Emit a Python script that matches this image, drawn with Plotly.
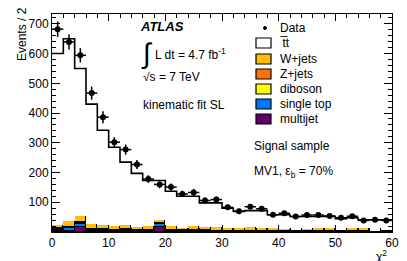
import plotly.graph_objects as go

# ---------------- data ----------------
bin_edges = list(range(0, 62, 2))
bin_centers = [e + 1 for e in bin_edges[:-1]]

data_values = [682, 639, 594, 467, 386, 302, 277, 227, 178, 160,
               151, 128, 133, 106, 109, 83, 70, 85, 78, 58,
               63, 52, 57, 57, 54, 48, 53, 39, 41, 39]
data_errors = [26, 25, 24, 22, 20, 17, 17, 15, 13, 13,
               12, 11, 12, 10, 10, 9, 8, 9, 9, 8,
               8, 7, 8, 8, 7, 7, 7, 6, 6, 6]

multijet = [3, 4, 16, 2, 2, 2, 2, 1, 1, 18,
            1, 1, 1, 1, 1, 1, 1, 1, 0, 0,
            0, 0, 0, 0, 0, 0, 0, 0, 0, 0]
single_top = [5, 9, 12, 5, 4, 3, 5, 3, 3, 8,
              3, 2, 3, 2, 2, 2, 2, 2, 2, 2,
              2, 1, 2, 2, 2, 1, 2, 2, 1, 1]
diboson = [1, 1, 2, 1, 1, 1, 1, 1, 1, 2,
           1, 1, 1, 1, 1, 0, 1, 1, 1, 1,
           0, 1, 0, 1, 1, 0, 1, 1, 0, 0]
z_jets = [3, 3, 4, 3, 3, 2, 2, 2, 2, 3,
          2, 2, 2, 2, 1, 1, 1, 1, 1, 1,
          1, 1, 1, 1, 1, 1, 1, 1, 0, 1]
w_jets = [12, 19, 19, 15, 14, 12, 12, 9, 12, 10,
          13, 7, 13, 12, 11, 8, 9, 11, 8, 8,
          7, 4, 7, 8, 8, 5, 10, 8, 2, 5]
ttbar = [576, 614, 497, 404, 318, 265, 213, 181, 154, 132,
         117, 107, 100, 80, 82, 68, 55, 56, 60, 46,
         48, 45, 42, 40, 40, 38, 34, 29, 38, 34]

legend_labels = ["Data", "t\u0305t", "W+jets", "Z+jets", "diboson", "single top", "multijet"]

# ---------------- styles ----------------
FONT = "Liberation Sans, Arial, Helvetica, sans-serif"
C_W = "#FFBF00"
C_Z = "#FF7200"
C_DB = "#FFFF00"
C_ST = "#0077FF"
C_MJ = "#660066"

# page body has an 8px default margin; figure is sized to fit the window
OFF = 8
W, H = 407 - OFF, 261 - OFF
# plot area in window pixels
X0, X1, Y0, Y1 = 52, 392, 14, 232
L, R, T, B = X0 - OFF, W - (X1 - OFF), Y0 - OFF, H - (Y1 - OFF)
PW, PH = X1 - X0, Y1 - Y0


def px(x):
    return (x - X0) / PW


def py(y):
    return (Y1 - y) / PH


fig = go.Figure()

stack = [(multijet, C_MJ, "multijet"), (single_top, C_ST, "single top"),
         (diboson, C_DB, "diboson"), (z_jets, C_Z, "Z+jets"), (w_jets, C_W, "W+jets")]
for vals, col, name in stack:
    fig.add_trace(go.Bar(x=bin_centers, y=vals, width=2, name=name,
                         marker=dict(color=col, line=dict(color="black", width=1)),
                         showlegend=False))
fig.add_trace(go.Bar(x=bin_centers, y=ttbar, width=2, name="ttbar",
                     marker=dict(color="white", line=dict(width=0)), showlegend=False))

totals = [m + s + d + z + w + t for m, s, d, z, w, t in
          zip(multijet, single_top, diboson, z_jets, w_jets, ttbar)]
fig.add_trace(go.Scatter(x=bin_edges, y=totals + [totals[-1]], mode="lines",
                         line=dict(shape="hv", color="black", width=1.6),
                         showlegend=False, hoverinfo="skip"))

fig.add_trace(go.Scatter(x=bin_centers, y=data_values, mode="markers",
                         marker=dict(color="black", size=6),
                         error_y=dict(type="data", array=data_errors, color="black",
                                      thickness=1.5, width=0),
                         error_x=dict(type="constant", value=1, color="black",
                                      thickness=1.5, width=0),
                         showlegend=False))

fig.update_layout(
    barmode="stack", bargap=0,
    width=W, height=H,
    margin=dict(l=L, r=R, t=T, b=B, pad=0, autoexpand=False),
    paper_bgcolor="white", plot_bgcolor="white",
    font=dict(family=FONT, size=12, color="black"),
    showlegend=False,
)
fig.update_xaxes(range=[0, 60], tickvals=[0, 10, 20, 30, 40, 50, 60],
                 ticks="inside", ticklen=7, tickwidth=1, tickcolor="black",
                 minor=dict(dtick=2, ticks="inside", ticklen=4, tickcolor="black"),
                 showline=True, linecolor="black", linewidth=1, mirror="allticks",
                 showgrid=False, zeroline=False, tickfont=dict(size=12),
                 automargin=False)
fig.update_yaxes(range=[0, 733], tickvals=[100, 200, 300, 400, 500, 600, 700],
                 ticks="inside", ticklen=8, tickwidth=1, tickcolor="black",
                 minor=dict(dtick=20, ticks="inside", ticklen=4, tickcolor="black"),
                 showline=True, linecolor="black", linewidth=1, mirror="allticks",
                 showgrid=False, zeroline=False, tickfont=dict(size=12),
                 automargin=False)

ann = []


def text(x, y, s, size=12, xanchor="left", **kw):
    ann.append(dict(x=px(x), y=py(y), xref="paper", yref="paper", text=s,
                    showarrow=False, xanchor=xanchor, yanchor="middle",
                    font=dict(family=FONT, size=size, color="black"), **kw))


text(138, 27, "<b><i>ATLAS</i></b>", size=13)
text(139, 53, "\u222B", size=28)
text(153, 54, "L dt = 4.7 fb<sup>-1</sup>")
text(141, 77, "\u221As = 7 TeV")
text(141, 105, "kinematic fit SL")
text(252, 146, "Signal sample")
text(252, 172, "MV1, \u03b5<sub>b</sub> = 70%")

# manual legend
leg_y = [28, 43, 59, 74, 89, 104, 119]
leg_cols = [None, "white", C_W, C_Z, C_DB, C_ST, C_MJ]
shapes = []
for lab, yy, col in zip(legend_labels, leg_y, leg_cols):
    text(278, yy, lab)
    if col is None:
        shapes.append(dict(type="circle", xref="paper", yref="paper",
                           x0=px(263.5), x1=px(266.5), y0=py(yy + 1.5), y1=py(yy - 1.5),
                           fillcolor="black", line=dict(color="black", width=1)))
    else:
        shapes.append(dict(type="rect", xref="paper", yref="paper",
                           x0=px(256), x1=px(271), y0=py(yy + 5), y1=py(yy - 5),
                           fillcolor=col, line=dict(color="black", width=1.2)))

# axis titles
ann.append(dict(x=px(22), y=py(5), xref="paper", yref="paper", text="Events / 2",
                showarrow=False, textangle=-90, xanchor="center", yanchor="top",
                font=dict(family=FONT, size=12, color="black")))
ann.append(dict(x=px(389), y=py(246), xref="paper", yref="paper", text="\u03c7<sup>2</sup>",
                showarrow=False, xanchor="right", yanchor="top",
                font=dict(family=FONT, size=12, color="black")))

fig.update_layout(annotations=ann, shapes=shapes)
fig.write_html("out.html")
